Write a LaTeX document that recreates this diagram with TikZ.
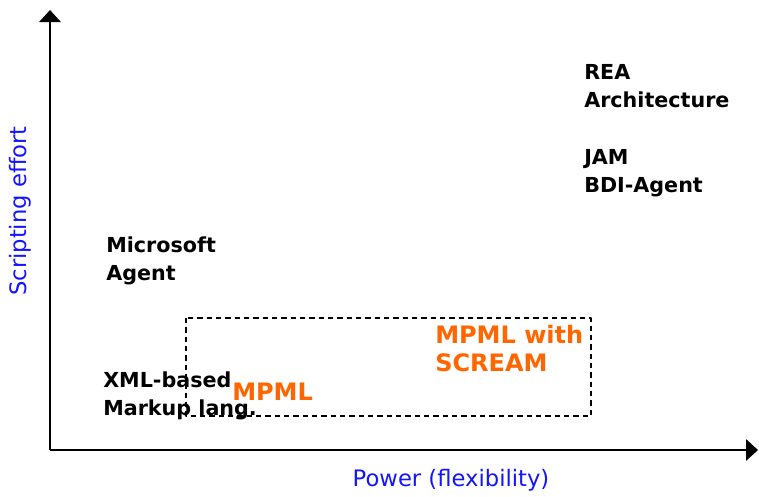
\documentclass[tikz,border=0pt]{standalone}
\usepackage{fontspec}
\setmainfont{DejaVu Sans}
\usetikzlibrary{arrows.meta}
\definecolor{mporange}{RGB}{255,102,0}
\definecolor{axisblue}{RGB}{20,20,255}

\begin{document}
\begin{tikzpicture}[x=0.75pt,y=-0.75pt,>={Triangle[length=9pt,width=16pt]}, line join=round]
	\tikzset{
		axis/.style={line width=1.6pt},
		system/.style={font=\fontsize{15.5}{20.5}\selectfont\bfseries, align=left, anchor=base west, inner sep=0pt},
		mpml/.style={system, text=mporange, font=\fontsize{18}{20.5}\selectfont\bfseries},
		axislabel/.style={text=axisblue, font=\fontsize{17}{20}\selectfont, inner sep=0pt}
	}
	\useasboundingbox (0,0) rectangle (759,496);
	% axes
	\coordinate (O) at (50,450);
	\coordinate (Y) at (50,10);
	\coordinate (X) at (758,450);
	\draw[axis,->] (O) -- (Y);
	\draw[axis,->] (O) -- (X);
	\node[axislabel, rotate=90] (effort) at (20,211) {Scripting effort};
	\node[axislabel] (power) at (451,480) {Power (flexibility)};
	% region of MPML
	\draw[dashed, dash pattern=on 4pt off 3pt, line width=0.8pt] (186,318) rectangle (591,416);
	% systems (anchored at the baseline of the last line)
	\node[system] (msagent) at (106,280) {Microsoft\\Agent};
	\node[system] (rea) at (584,107) {REA\\Architecture};
	\node[system] (jam) at (584,192) {JAM\\BDI-Agent};
	\node[system] (xml) at (103,415) {XML-based\\Markup lang.};
	\node[mpml] (mpml) at (232,400) {MPML};
	\node[mpml] (scream) at (435,371) {MPML with\\SCREAM};
\end{tikzpicture}
\end{document}
